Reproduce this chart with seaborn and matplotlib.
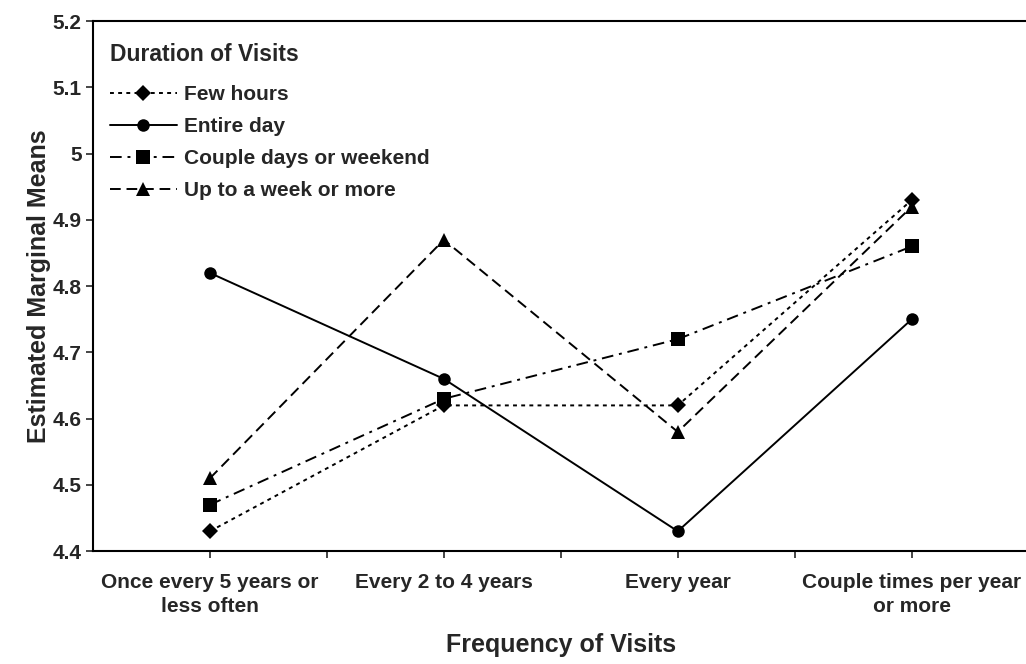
import numpy as np
import pandas as pd
import matplotlib
matplotlib.use('Agg')
import matplotlib.pyplot as plt
import seaborn as sns

# data
frequency = ['Once every 5 years or\nless often', 'Every 2 to 4 years',
             'Every year', 'Couple times per year\nor more']
few_hours = [4.43, 4.62, 4.62, 4.93]
entire_day = [4.82, 4.66, 4.43, 4.75]
couple_days = [4.47, 4.63, 4.72, 4.86]
week_or_more = [4.51, 4.87, 4.58, 4.92]
durations = ['Few hours', 'Entire day', 'Couple days or weekend', 'Up to a week or more']
y_ticks = [4.4, 4.5, 4.6, 4.7, 4.8, 4.9, 5, 5.1, 5.2]

sns.set_style('ticks')
plt.rcParams['font.family'] = ['Liberation Sans', 'DejaVu Sans']
plt.rcParams['font.weight'] = 'bold'

fig = plt.figure(figsize=(10.26, 6.64), dpi=100)
ax = fig.add_axes([0.0906, 0.170, 0.912, 0.798])

# one style per duration
styles = {
    'Few hours': dict(linestyle=(0, (2, 2.2)), marker='D', markersize=8),
    'Entire day': dict(linestyle='-', marker='o', markersize=9),
    'Couple days or weekend': dict(linestyle=(0, (6, 3, 1.5, 3)), marker='s', markersize=10.5),
    'Up to a week or more': dict(linestyle=(0, (5.5, 3)), marker='^', markersize=10.5),
}
series = [few_hours, entire_day, couple_days, week_or_more]

x_pos = np.arange(len(frequency))
for name, vals in zip(durations, series):
    sns.lineplot(x=x_pos, y=vals, ax=ax, color='black', linewidth=1.4,
                 markeredgewidth=0, label=name, sort=False, **styles[name])

ax.set_xlim(-0.5, 3.5)
ax.set_ylim(4.4, 5.2)
ax.set_yticks(y_ticks)
ax.set_yticklabels(['4.4', '4.5', '4.6', '4.7', '4.8', '4.9', '5', '5.1', '5.2'])
ax.set_xticks(x_pos)
ax.set_xticklabels(frequency, fontsize=15, fontweight='bold', linespacing=1.3)
ax.set_xticks([0.5, 1.5, 2.5], minor=True)
ax.tick_params(axis='x', which='both', direction='out', length=5, width=1.2, pad=11)
ax.tick_params(axis='y', direction='out', length=5, width=1.2, labelsize=15, pad=3)
for lab in ax.get_yticklabels():
    lab.set_fontweight('bold')

for side in ['left', 'bottom', 'top']:
    ax.spines[side].set_linewidth(1.5)
    ax.spines[side].set_color('black')
ax.spines['right'].set_visible(False)

ax.set_xlabel('Frequency of Visits', fontsize=18, fontweight='bold', labelpad=12)
ax.set_ylabel('Estimated Marginal Means', fontsize=18, fontweight='bold', labelpad=1)

leg = ax.legend(title='Duration of Visits', loc='upper left', bbox_to_anchor=(-0.002, 0.995),
                frameon=False, fontsize=15, title_fontsize=16.5, handlelength=3.2,
                handletextpad=0.35, labelspacing=0.62, alignment='left')
leg.get_title().set_fontweight('bold')
for t in leg.get_texts():
    t.set_fontweight('bold')
# a bit more room between the title and the entries
leg._legend_box.sep = 14

fig.savefig('out.png', dpi=100)
